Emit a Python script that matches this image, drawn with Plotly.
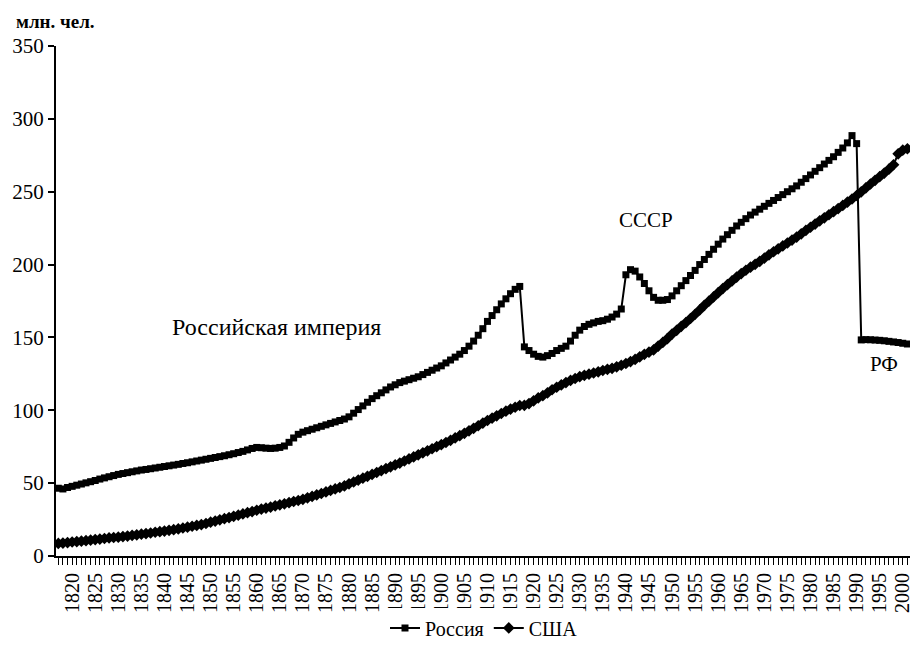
import plotly.graph_objects as go

years = list(range(1817, 2002))

russia = [
    46.5, 46, 47, 47.8, 48.6, 49.4, 50.2, 51, 51.8, 52.8,          # 1817-1826
    53.6, 54.4, 55.2, 56, 56.6, 57.2, 57.8, 58.4, 59, 59.4,        # 1827-1836
    59.9, 60.4, 60.9, 61.4, 61.9, 62.4, 62.9, 63.5, 64, 64.6,      # 1837-1846
    65.2, 65.8, 66.4, 67, 67.6, 68.2, 68.8, 69.5, 70.2, 71,        # 1847-1856
    71.8, 72.8, 73.8, 74.5, 74.3, 74, 73.8, 74, 74.5, 75.5,        # 1857-1866
    78, 81, 83.5, 85, 86, 87, 88, 89, 90, 91,                      # 1867-1876
    92, 93, 94, 95.5, 98, 100.5, 103, 105.5, 108, 110,             # 1877-1886
    112, 114, 116, 117.5, 119, 120, 121, 122, 123, 124.5,          # 1887-1896
    126, 127.5, 129, 130.5, 132.5, 134.5, 136.5, 138.5, 141, 144,  # 1897-1906
    147.5, 151.5, 156, 161, 165, 169, 173, 176.5, 180, 183,        # 1907-1916
    185, 143.5, 141, 138.5, 137, 136.5, 137.5, 139, 141, 142.5,    # 1917-1926
    144, 147.5, 151.5, 155, 157.5, 159, 160, 161, 161.5, 162.5,    # 1927-1936
    164, 166, 169.5, 193, 196.5, 195.5, 191.5, 187, 182, 177.5,    # 1937-1946
    175.5, 175.5, 176, 178.5, 182, 185.5, 189, 192.5, 196, 200,    # 1947-1956
    203.5, 207, 210.5, 214, 217.5, 220.5, 223.5, 226.5, 229, 231.5,  # 1957-1966
    234, 236, 238, 240, 242, 244, 246, 248, 250, 252,              # 1967-1976
    254, 256.5, 259, 261.5, 264, 266.5, 269, 271.5, 274, 277,      # 1977-1986
    280, 283.5, 288.5, 283, 148.3, 148.5, 148.4, 148.2, 148, 147.7,  # 1987-1996
    147.3, 146.9, 146.5, 146, 145.5                                # 1997-2001
]

usa = [
    8.6, 8.9, 9.2, 9.6, 9.9, 10.2, 10.5, 10.9, 11.3, 11.6,         # 1817-1826
    12.0, 12.4, 12.7, 12.9, 13.3, 13.7, 14.1, 14.5, 15.0, 15.4,    # 1827-1836
    15.8, 16.3, 16.7, 17.1, 17.6, 18.1, 18.6, 19.2, 19.8, 20.4,    # 1837-1846
    21.0, 21.6, 22.3, 23.2, 24.0, 24.8, 25.6, 26.4, 27.2, 28.0,    # 1847-1856
    28.9, 29.7, 30.5, 31.4, 32.2, 32.9, 33.6, 34.4, 35.1, 35.8,    # 1857-1866
    36.6, 37.4, 38.1, 38.9, 39.9, 40.9, 41.9, 42.9, 44.0, 45.0,    # 1867-1876
    46.0, 47.0, 48.1, 49.5, 50.8, 52.1, 53.4, 54.7, 56.0, 57.3,    # 1877-1886
    58.6, 59.9, 61.2, 62.5, 63.8, 65.2, 66.6, 68.0, 69.4, 70.8,    # 1887-1896
    72.2, 73.6, 75.0, 76.4, 77.9, 79.4, 81.0, 82.6, 84.2, 85.9,    # 1897-1906
    87.6, 89.4, 91.2, 93.0, 94.6, 96.2, 97.8, 99.4, 100.8, 102.1,  # 1907-1916
    103.3, 103.4, 104.6, 106.5, 108.5, 110.0, 111.9, 114.1, 115.8, 117.4,  # 1917-1926
    119.0, 120.5, 121.8, 123.1, 124.0, 124.8, 125.6, 126.4, 127.3, 128.1,  # 1927-1936
    128.8, 129.8, 130.9, 132.1, 133.4, 134.9, 136.7, 138.4, 139.9, 141.4,  # 1937-1946
    144.1, 146.6, 149.2, 152.3, 154.9, 157.6, 160.2, 163.0, 165.9, 168.9,  # 1947-1956
    172.0, 174.9, 177.8, 180.7, 183.5, 186.2, 188.8, 191.4, 193.8, 196.1,  # 1957-1966
    198.2, 200.2, 202.2, 204.4, 206.7, 208.8, 210.8, 212.8, 214.8, 216.8,  # 1967-1976
    218.9, 221.1, 223.4, 225.6, 227.8, 230.0, 232.1, 234.2, 236.3, 238.4,  # 1977-1986
    240.6, 242.8, 245.0, 247.4, 249.9, 252.6, 255.3, 257.8, 260.3, 262.8,  # 1987-1996
    265.5, 268.5, 276.0, 278.5, 279.5                                      # 1997-2001
]

tick_years = list(range(1820, 2001, 5))
tick_labels = [str(y) for y in tick_years]
y_ticks = [0, 50, 100, 150, 200, 250, 300, 350]

FONT = "Liberation Serif"

fig = go.Figure()
fig.add_trace(go.Scatter(
    x=years, y=russia, name="Россия", mode="lines+markers",
    line=dict(color="black", width=2),
    marker=dict(symbol="square", size=7, color="black"),
))
fig.add_trace(go.Scatter(
    x=years, y=usa, name="США", mode="lines+markers",
    line=dict(color="black", width=2),
    marker=dict(symbol="diamond", size=9, color="black"),
))

# The page has an 8px body margin, so the figure is offset accordingly.
fig.update_layout(
    width=910, height=638,
    margin=dict(l=48, r=6, t=38, b=90, autoexpand=False),
    paper_bgcolor="white", plot_bgcolor="white",
    font=dict(family=FONT, color="black", size=18),
    showlegend=True,
    legend=dict(orientation="h", x=0.5, xanchor="center", y=-0.141, yanchor="middle",
                font=dict(family=FONT, size=20, color="black"),
                itemwidth=30, tracegroupgap=0),
    xaxis=dict(
        range=[1816.5, 2002], showgrid=False, zeroline=False, automargin=False,
        showline=True, linecolor="black", linewidth=2,
        tickmode="array", tickvals=tick_years, ticktext=tick_labels,
        tickangle=-90, ticks="outside", ticklen=7, tickcolor="black", tickwidth=1,
        tickfont=dict(family=FONT, size=20, color="black"),
        minor=dict(dtick=1, ticks="outside", ticklen=7, tickcolor="black", tickwidth=1),
    ),
    yaxis=dict(
        range=[0, 350], showgrid=False, zeroline=False, automargin=False,
        showline=True, linecolor="black", linewidth=2,
        tickmode="array", tickvals=y_ticks,
        ticks="outside", ticklen=6, tickcolor="black", tickwidth=2,
        tickfont=dict(family=FONT, size=21, color="black"),
    ),
)

fig.add_annotation(xref="paper", yref="paper", x=-0.049, y=1.049, xanchor="left", yanchor="middle",
                   text="<b>млн. чел.</b>", showarrow=False,
                   font=dict(family=FONT, size=19, color="black"))
fig.add_annotation(x=1864.3, y=157, text="Российская империя", showarrow=False,
                   font=dict(family=FONT, size=24, color="black"))
fig.add_annotation(x=1944.3, y=230.6, text="СССР", showarrow=False,
                   font=dict(family=FONT, size=21, color="black"))
fig.add_annotation(x=1996, y=132, text="РФ", showarrow=False,
                   font=dict(family=FONT, size=21, color="black"))

fig.write_html("out.html")
